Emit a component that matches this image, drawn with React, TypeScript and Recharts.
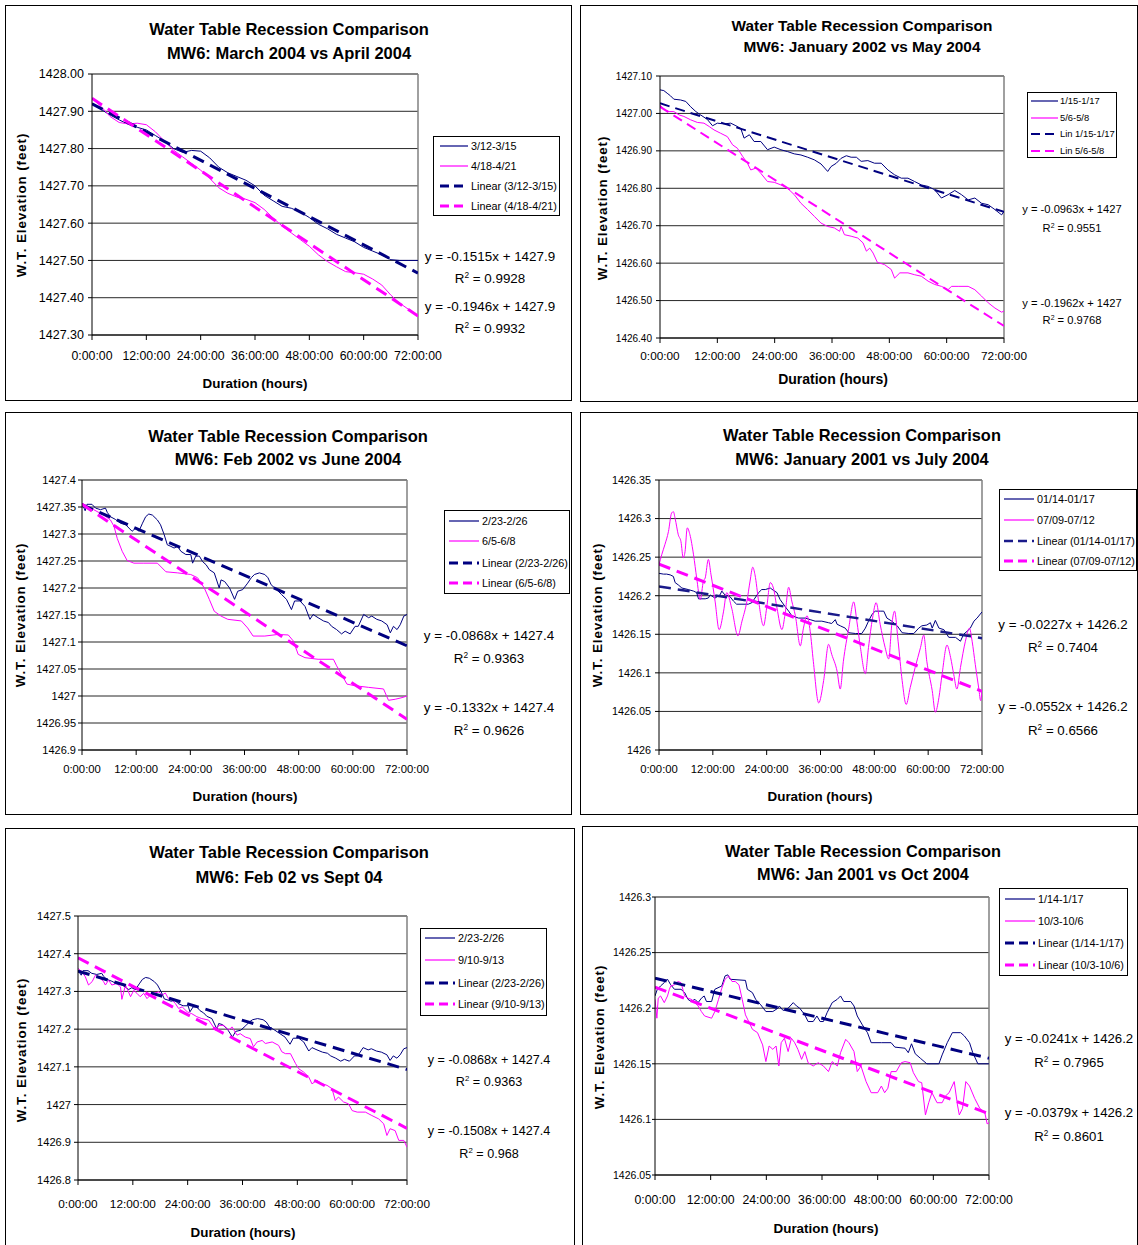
import React from 'react';
import { LineChart, Line, XAxis, YAxis, CartesianGrid, ReferenceLine } from 'recharts';

const FONT = '"Liberation Sans", Arial, Helvetica, sans-serif';
const NAVY = '#000080';
const MAGENTA = '#FF00FF';

// ---------- shared axis data ----------
const xTicks = [0, 12, 24, 36, 48, 60, 72];
const fmtHours = (h: number) => `${h}:00:00`;

// ---------- Panel 1: March 2004 vs April 2004 ----------
const p1Hours = [0, 2, 4, 6, 8, 10, 12, 14, 16, 18, 20, 22, 24, 26, 28, 30, 32, 34, 36, 38, 40, 42, 44, 46, 48, 50, 52, 54, 56, 58, 60, 62, 64, 66, 68, 70, 72];
const p1March = [1427.92, 1427.905, 1427.89, 1427.877, 1427.865, 1427.857, 1427.85, 1427.835, 1427.82, 1427.8, 1427.79, 1427.795, 1427.793, 1427.775, 1427.75, 1427.735, 1427.725, 1427.715, 1427.7, 1427.675, 1427.66, 1427.645, 1427.64, 1427.63, 1427.615, 1427.597, 1427.585, 1427.57, 1427.56, 1427.55, 1427.535, 1427.525, 1427.515, 1427.502, 1427.5, 1427.5, 1427.5];
const p1April = [1427.935, 1427.913, 1427.886, 1427.87, 1427.866, 1427.868, 1427.864, 1427.845, 1427.82, 1427.796, 1427.778, 1427.76, 1427.742, 1427.72, 1427.695, 1427.68, 1427.67, 1427.664, 1427.655, 1427.637, 1427.614, 1427.592, 1427.574, 1427.556, 1427.538, 1427.515, 1427.497, 1427.483, 1427.47, 1427.467, 1427.463, 1427.45, 1427.434, 1427.407, 1427.385, 1427.368, 1427.35];
const p1MarchTrend = [[0, 1427.92], [72, 1427.466]];
const p1AprilTrend = [[0, 1427.935], [72, 1427.351]];
const p1YTicks = [1427.3, 1427.4, 1427.5, 1427.6, 1427.7, 1427.8, 1427.9, 1428.0];

// ---------- Panel 2: January 2002 vs May 2004 ----------
const p2Jan = [[0, 1427.063], [0.8, 1427.061], [1.5, 1427.054], [2.2, 1427.047], [2.9, 1427.038], [4.3, 1427.036], [5.4, 1427.032], [6.4, 1427.018], [7.5, 1427.005], [8.5, 1426.996], [9.9, 1426.984], [11.0, 1426.967], [12.0, 1426.974], [13.4, 1426.972], [14.8, 1426.974], [15.9, 1426.967], [16.9, 1426.96], [17.6, 1426.934], [18.7, 1426.943], [19.7, 1426.925], [21.1, 1426.925], [22.5, 1426.903], [23.9, 1426.91], [25.3, 1426.903], [26.7, 1426.898], [28.1, 1426.892], [29.5, 1426.889], [30.9, 1426.883], [32.3, 1426.876], [33.7, 1426.865], [35.1, 1426.845], [35.8, 1426.858], [36.9, 1426.867], [37.9, 1426.88], [39.0, 1426.887], [40.0, 1426.883], [41.1, 1426.883], [42.1, 1426.872], [43.5, 1426.874], [44.9, 1426.867], [46.3, 1426.867], [47.7, 1426.849], [49.1, 1426.836], [50.5, 1426.827], [51.9, 1426.827], [53.3, 1426.818], [54.7, 1426.809], [56.1, 1426.805], [57.5, 1426.796], [58.9, 1426.774], [60.3, 1426.783], [61.7, 1426.794], [63.1, 1426.783], [64.5, 1426.769], [65.9, 1426.774], [67.3, 1426.76], [68.7, 1426.756], [70.1, 1426.743], [71.5, 1426.729], [72, 1426.738]];
const p2May = [[0, 1427.023], [0.8, 1427.011], [1.9, 1427.005], [2.9, 1427.005], [4.0, 1426.996], [5.0, 1426.992], [6.4, 1426.983], [7.8, 1426.976], [9.2, 1426.974], [10.3, 1426.965], [11.3, 1426.956], [12.7, 1426.947], [14.1, 1426.938], [15.2, 1426.916], [16.2, 1426.907], [17.3, 1426.885], [18.3, 1426.867], [19.0, 1426.849], [20.1, 1426.854], [21.1, 1426.84], [22.5, 1426.818], [23.9, 1426.816], [25.3, 1426.809], [26.7, 1426.8], [28.1, 1426.783], [29.5, 1426.76], [30.9, 1426.743], [32.3, 1426.725], [33.7, 1426.707], [35.1, 1426.698], [36.5, 1426.694], [37.6, 1426.685], [37.9, 1426.698], [38.6, 1426.676], [40.0, 1426.672], [41.4, 1426.667], [42.5, 1426.654], [43.2, 1426.632], [43.9, 1426.64], [44.6, 1426.627], [45.5, 1426.602], [47.0, 1426.596], [48.4, 1426.583], [49.1, 1426.56], [50.2, 1426.574], [51.9, 1426.574], [53.3, 1426.569], [54.7, 1426.565], [56.1, 1426.552], [57.5, 1426.543], [58.9, 1426.538], [60.3, 1426.529], [61.0, 1426.538], [62.4, 1426.538], [64.5, 1426.538], [65.9, 1426.529], [67.3, 1426.512], [68.7, 1426.494], [70.1, 1426.48], [71.5, 1426.469], [72, 1426.472]];
const p2JanTrend = [[0, 1427.027], [72, 1426.737]];
const p2MayTrend = [[0, 1427.018], [72, 1426.432]];
const p2YTicks = [1426.4, 1426.5, 1426.6, 1426.7, 1426.8, 1426.9, 1427.0, 1427.1];

// ---------- Panel 3 & 5 shared: 2/23-2/26 (Feb 2002) ----------
const feb02 = [[0, 1427.357], [0.7, 1427.343], [1.1, 1427.355], [2.2, 1427.355], [3.0, 1427.348], [4.1, 1427.345], [5.2, 1427.348], [5.6, 1427.34], [6.3, 1427.332], [7.4, 1427.327], [8.5, 1427.32], [9.7, 1427.317], [10.4, 1427.311], [11.1, 1427.305], [11.9, 1427.311], [12.6, 1427.305], [13.4, 1427.32], [14.1, 1427.332], [14.8, 1427.337], [15.6, 1427.335], [16.7, 1427.326], [17.4, 1427.317], [18.2, 1427.299], [18.9, 1427.28], [19.7, 1427.277], [20.4, 1427.274], [21.2, 1427.277], [21.9, 1427.268], [23.0, 1427.262], [24.1, 1427.262], [24.5, 1427.246], [25.2, 1427.259], [26.0, 1427.259], [26.7, 1427.249], [27.5, 1427.243], [28.2, 1427.234], [29.3, 1427.228], [30.4, 1427.2], [30.8, 1427.215], [31.6, 1427.212], [32.7, 1427.2], [33.8, 1427.179], [34.5, 1427.194], [35.6, 1427.197], [36.7, 1427.209], [37.5, 1427.219], [38.2, 1427.225], [39.3, 1427.228], [40.5, 1427.225], [41.2, 1427.219], [41.9, 1427.206], [43.1, 1427.197], [44.2, 1427.188], [45.3, 1427.179], [46.4, 1427.16], [47.1, 1427.176], [48.3, 1427.176], [49.4, 1427.166], [50.5, 1427.142], [51.2, 1427.151], [52.3, 1427.145], [53.5, 1427.139], [54.6, 1427.136], [55.3, 1427.129], [56.4, 1427.123], [57.5, 1427.115], [58.3, 1427.12], [59.4, 1427.115], [60.5, 1427.129], [61.2, 1427.129], [62.4, 1427.151], [63.5, 1427.145], [64.2, 1427.148], [65.3, 1427.142], [66.4, 1427.139], [67.6, 1427.132], [68.3, 1427.117], [69.0, 1427.129], [69.8, 1427.123], [70.5, 1427.132], [71.3, 1427.148], [72, 1427.151]];
const feb02Trend = [[0, 1427.354], [72, 1427.093]];

// ---------- Panel 3: Feb 2002 vs June 2004 ----------
const p3June = [[0, 1427.357], [2.6, 1427.345], [4.8, 1427.335], [6.3, 1427.326], [7.1, 1427.314], [7.8, 1427.292], [8.9, 1427.268], [10.0, 1427.251], [11.5, 1427.246], [13.7, 1427.246], [16.7, 1427.246], [18.6, 1427.23], [21.2, 1427.228], [24.1, 1427.225], [25.6, 1427.219], [27.1, 1427.2], [28.2, 1427.179], [29.3, 1427.157], [30.8, 1427.148], [32.3, 1427.142], [35.3, 1427.139], [36.7, 1427.126], [37.9, 1427.111], [40.5, 1427.111], [43.4, 1427.114], [45.7, 1427.113], [46.8, 1427.102], [47.9, 1427.077], [49.4, 1427.071], [52.3, 1427.068], [55.7, 1427.068], [56.4, 1427.056], [57.5, 1427.04], [58.7, 1427.022], [60.5, 1427.019], [63.5, 1427.016], [66.8, 1427.013], [67.9, 1426.992], [69.4, 1426.994], [70.9, 1426.997], [72, 1427.0]];
const p3JuneTrend = [[0, 1427.355], [72, 1426.957]];
const p3YTicks = [1426.9, 1426.95, 1427.0, 1427.05, 1427.1, 1427.15, 1427.2, 1427.25, 1427.3, 1427.35, 1427.4];

// ---------- Panel 4: January 2001 vs July 2004 ----------
const p4Jan = [[0, 1426.229], [1.0, 1426.228], [1.7, 1426.228], [2.5, 1426.227], [3.2, 1426.225], [3.6, 1426.217], [4.3, 1426.214], [5.1, 1426.21], [6.5, 1426.208], [7.7, 1426.206], [8.4, 1426.204], [8.8, 1426.196], [10.3, 1426.196], [11.0, 1426.197], [11.4, 1426.201], [12.5, 1426.197], [13.6, 1426.201], [14.0, 1426.206], [14.7, 1426.201], [15.8, 1426.199], [16.6, 1426.193], [17.3, 1426.189], [18.5, 1426.189], [19.9, 1426.189], [20.7, 1426.191], [21.4, 1426.197], [22.2, 1426.204], [22.9, 1426.208], [23.7, 1426.208], [24.8, 1426.21], [25.5, 1426.207], [26.3, 1426.204], [27.0, 1426.195], [28.1, 1426.186], [28.9, 1426.18], [29.6, 1426.174], [31.1, 1426.171], [32.6, 1426.171], [33.7, 1426.169], [34.8, 1426.167], [36.3, 1426.167], [37.8, 1426.165], [38.5, 1426.164], [39.3, 1426.169], [39.7, 1426.163], [40.4, 1426.161], [41.5, 1426.158], [42.3, 1426.152], [43.8, 1426.151], [45.2, 1426.151], [46.0, 1426.158], [46.7, 1426.167], [47.5, 1426.176], [48.2, 1426.18], [49.3, 1426.18], [50.1, 1426.18], [50.8, 1426.171], [51.9, 1426.167], [53.1, 1426.161], [54.2, 1426.152], [55.7, 1426.151], [56.8, 1426.151], [57.9, 1426.158], [58.6, 1426.161], [59.7, 1426.162], [60.5, 1426.165], [60.9, 1426.158], [61.6, 1426.168], [62.4, 1426.158], [63.5, 1426.156], [64.6, 1426.146], [66.1, 1426.146], [67.2, 1426.141], [67.9, 1426.15], [68.7, 1426.154], [69.4, 1426.158], [70.2, 1426.167], [70.9, 1426.171], [72, 1426.179]];
const p4Jul = [[0, 1426.24], [0.6, 1426.253], [1.3, 1426.266], [2.1, 1426.283], [2.8, 1426.307], [3.2, 1426.309], [3.6, 1426.3], [4.3, 1426.279], [4.9, 1426.27], [5.4, 1426.249], [5.8, 1426.257], [6.3, 1426.288], [6.9, 1426.279], [7.7, 1426.253], [8.4, 1426.223], [9.2, 1426.195], [9.9, 1426.219], [10.3, 1426.223], [11.0, 1426.247], [11.6, 1426.227], [12.5, 1426.193], [13.4, 1426.156], [14.4, 1426.18], [15.1, 1426.204], [16.2, 1426.184], [17.6, 1426.148], [18.5, 1426.167], [19.6, 1426.193], [20.3, 1426.219], [20.9, 1426.237], [21.4, 1426.227], [22.2, 1426.193], [23.3, 1426.161], [24.0, 1426.184], [24.8, 1426.217], [25.5, 1426.21], [26.3, 1426.184], [27.4, 1426.156], [28.1, 1426.176], [28.9, 1426.211], [29.6, 1426.193], [30.4, 1426.174], [31.5, 1426.135], [32.2, 1426.158], [33.0, 1426.174], [33.7, 1426.154], [34.4, 1426.115], [35.6, 1426.061], [36.7, 1426.09], [37.8, 1426.137], [38.5, 1426.124], [39.7, 1426.102], [40.4, 1426.079], [41.1, 1426.115], [42.3, 1426.158], [43.4, 1426.192], [44.1, 1426.167], [44.9, 1426.133], [46.0, 1426.099], [46.7, 1426.133], [47.6, 1426.171], [48.4, 1426.191], [49.3, 1426.163], [50.4, 1426.133], [51.2, 1426.118], [51.9, 1426.163], [52.5, 1426.18], [53.3, 1426.141], [54.2, 1426.09], [55.1, 1426.059], [56.0, 1426.081], [57.1, 1426.107], [58.3, 1426.133], [59.0, 1426.149], [59.7, 1426.115], [60.9, 1426.077], [61.6, 1426.049], [62.4, 1426.068], [63.1, 1426.098], [64.2, 1426.136], [65.0, 1426.12], [65.7, 1426.098], [66.4, 1426.079], [67.2, 1426.107], [68.3, 1426.141], [69.2, 1426.158], [69.8, 1426.141], [70.5, 1426.111], [71.3, 1426.079], [71.7, 1426.064], [72, 1426.077]];
const p4JanTrend = [[0, 1426.212], [72, 1426.145]];
const p4JulTrend = [[0, 1426.241], [72, 1426.076]];
const p4YTicks = [1426.0, 1426.05, 1426.1, 1426.15, 1426.2, 1426.25, 1426.3, 1426.35];

// ---------- Panel 5: Feb 02 vs Sept 04 ----------
const p5Sept = [[0, 1427.361], [0.9, 1427.352], [1.6, 1427.339], [2.3, 1427.317], [3.1, 1427.326], [3.8, 1427.343], [4.5, 1427.339], [5.6, 1427.326], [6.0, 1427.317], [6.7, 1427.33], [7.4, 1427.317], [8.5, 1427.321], [9.3, 1427.312], [9.6, 1427.279], [10.4, 1427.317], [11.5, 1427.286], [12.2, 1427.303], [12.9, 1427.295], [13.6, 1427.286], [14.4, 1427.295], [15.1, 1427.281], [15.8, 1427.29], [16.6, 1427.295], [17.7, 1427.299], [18.4, 1427.29], [19.1, 1427.296], [19.8, 1427.281], [20.6, 1427.277], [21.3, 1427.268], [22.0, 1427.255], [22.8, 1427.259], [23.9, 1427.246], [24.9, 1427.241], [26.0, 1427.233], [27.1, 1427.228], [28.6, 1427.224], [30.1, 1427.197], [30.8, 1427.21], [31.9, 1427.21], [33.0, 1427.197], [33.7, 1427.206], [34.8, 1427.184], [35.5, 1427.188], [36.6, 1427.179], [37.7, 1427.175], [38.4, 1427.153], [39.2, 1427.166], [40.3, 1427.17], [41.0, 1427.162], [42.5, 1427.166], [43.9, 1427.157], [44.6, 1427.14], [45.4, 1427.135], [46.5, 1427.135], [47.6, 1427.109], [48.3, 1427.095], [49.4, 1427.086], [50.5, 1427.073], [51.2, 1427.055], [52.3, 1427.064], [53.4, 1427.055], [54.5, 1427.051], [55.6, 1427.042], [56.3, 1427.011], [57.0, 1427.02], [58.1, 1427.007], [59.2, 1427.002], [60.0, 1426.984], [61.1, 1426.98], [62.9, 1426.98], [64.3, 1426.971], [65.8, 1426.962], [66.9, 1426.949], [67.6, 1426.918], [68.3, 1426.936], [69.4, 1426.931], [70.2, 1426.905], [71.3, 1426.905], [72, 1426.887]];
const p5SeptTrend = [[0, 1427.389], [72, 1426.937]];
const p5YTicks = [1426.8, 1426.9, 1427.0, 1427.1, 1427.2, 1427.3, 1427.4, 1427.5];

// ---------- Panel 6: Jan 2001 vs Oct 2004 ----------
const p6Jan = [[0, 1426.211], [0.5, 1426.217], [1.2, 1426.22], [2.0, 1426.223], [2.7, 1426.226], [3.4, 1426.221], [4.2, 1426.217], [5.6, 1426.217], [6.4, 1426.214], [7.1, 1426.208], [7.8, 1426.206], [8.6, 1426.208], [9.3, 1426.205], [10.0, 1426.209], [10.6, 1426.211], [11.1, 1426.206], [12.2, 1426.206], [12.9, 1426.217], [14.4, 1426.22], [15.1, 1426.229], [15.7, 1426.23], [16.2, 1426.226], [19.5, 1426.225], [19.9, 1426.217], [21.0, 1426.214], [21.7, 1426.208], [22.8, 1426.203], [23.9, 1426.197], [25.4, 1426.197], [26.5, 1426.2], [26.8, 1426.202], [27.6, 1426.198], [28.7, 1426.2], [29.8, 1426.205], [30.5, 1426.202], [31.2, 1426.2], [32.3, 1426.194], [33.0, 1426.188], [34.1, 1426.188], [34.9, 1426.193], [35.6, 1426.188], [36.3, 1426.188], [37.1, 1426.196], [38.2, 1426.205], [39.3, 1426.208], [40.0, 1426.211], [40.7, 1426.206], [42.2, 1426.206], [42.9, 1426.202], [43.6, 1426.193], [44.7, 1426.185], [45.8, 1426.178], [46.6, 1426.169], [48.8, 1426.169], [50.9, 1426.169], [51.7, 1426.165], [53.9, 1426.164], [54.6, 1426.16], [55.3, 1426.168], [56.1, 1426.159], [57.2, 1426.155], [58.6, 1426.15], [61.2, 1426.15], [61.9, 1426.158], [63.0, 1426.169], [64.1, 1426.178], [65.9, 1426.178], [66.7, 1426.175], [67.8, 1426.169], [68.5, 1426.16], [69.6, 1426.15], [72, 1426.15]];
const p6Oct = [[0, 1426.208], [0.4, 1426.191], [0.7, 1426.209], [1.2, 1426.211], [2.0, 1426.205], [2.7, 1426.211], [3.1, 1426.217], [3.4, 1426.22], [4.2, 1426.221], [4.9, 1426.224], [5.6, 1426.223], [6.4, 1426.211], [7.1, 1426.209], [7.8, 1426.208], [8.6, 1426.205], [9.3, 1426.202], [10.0, 1426.197], [10.7, 1426.193], [12.2, 1426.191], [12.9, 1426.197], [13.7, 1426.208], [14.4, 1426.218], [15.1, 1426.226], [15.9, 1426.229], [16.6, 1426.224], [17.3, 1426.224], [18.1, 1426.221], [18.8, 1426.208], [19.5, 1426.194], [20.2, 1426.188], [21.0, 1426.181], [22.1, 1426.178], [23.2, 1426.167], [23.9, 1426.152], [24.6, 1426.166], [25.4, 1426.163], [26.1, 1426.166], [26.7, 1426.148], [27.2, 1426.169], [27.9, 1426.173], [28.7, 1426.161], [29.4, 1426.173], [30.1, 1426.169], [30.8, 1426.163], [31.6, 1426.154], [32.3, 1426.161], [33.0, 1426.151], [34.1, 1426.148], [35.2, 1426.151], [36.3, 1426.148], [37.4, 1426.143], [38.2, 1426.152], [39.3, 1426.148], [40.0, 1426.16], [41.1, 1426.172], [41.8, 1426.169], [42.9, 1426.161], [43.6, 1426.143], [44.4, 1426.148], [45.5, 1426.134], [46.6, 1426.124], [48.0, 1426.124], [48.8, 1426.13], [49.5, 1426.124], [50.2, 1426.128], [50.9, 1426.143], [52.0, 1426.143], [53.1, 1426.151], [53.9, 1426.152], [55.0, 1426.151], [55.7, 1426.142], [56.8, 1426.134], [57.5, 1426.133], [58.3, 1426.104], [59.0, 1426.115], [59.7, 1426.124], [60.8, 1426.115], [61.9, 1426.115], [62.6, 1426.121], [63.4, 1426.124], [64.5, 1426.134], [65.2, 1426.113], [65.6, 1426.104], [66.3, 1426.11], [67.0, 1426.134], [67.8, 1426.13], [68.9, 1426.119], [70.0, 1426.11], [71.1, 1426.106], [71.6, 1426.096], [72, 1426.097]];
const p6JanTrend = [[0, 1426.227], [72, 1426.155]];
const p6OctTrend = [[0, 1426.219], [72, 1426.105]];
const p6YTicks = [1426.05, 1426.1, 1426.15, 1426.2, 1426.25, 1426.3];

// ---------- helpers ----------
const zip = (hours: number[], values: number[]) => hours.map((t, i) => ({ t, v: values[i] }));
const pts = (pairs: number[][]) => pairs.map(([t, v]) => ({ t, v }));
const fixed2 = (v: number) => v.toFixed(2);
const trim = (v: number) => String(Number(v.toFixed(2)));

const solid = (data: any, color: string) => ({ data, color, width: 1 });
const dashed = (data: any, color: string, width = 3, dash = '12 7') => ({ data, color, width, dash });

const TITLE1 = 'Water Table Recession Comparison';

const panels = [
  {
    frame: { x: 5, y: 5, w: 567, h: 396 },
    plot: { l: 92, t: 74, r: 418, b: 335 },
    yDomain: [1427.3, 1428.0], yTicks: p1YTicks, yFmt: fixed2, yFont: 12.5, yGap: 8,
    xFont: 12.3, xLabelOff: 21,
    title: { cx: 289, ys: [29, 53], size: 16.5, lines: [TITLE1, 'MW6: March 2004 vs April 2004'] },
    xTitle: { cx: 255, cy: 383, size: 13.4 },
    yTitle: { cx: 22, cy: 205, size: 13.4 },
    series: [
      solid(zip(p1Hours, p1March), NAVY),
      solid(zip(p1Hours, p1April), MAGENTA),
      dashed(pts(p1MarchTrend), NAVY),
      dashed(pts(p1AprilTrend), MAGENTA),
    ],
    legend: { l: 433, t: 136, r: 560, b: 216, rows: [146, 166, 186, 206], sx1: 440, sx2: 468, tx: 471, size: 10.8,
      labels: ['3/12-3/15', '4/18-4/21', 'Linear (3/12-3/15)', 'Linear (4/18-4/21)'] },
    eq: { cx: 490, ys: [256, 278, 306, 328], size: 13.4, texts: ['y = -0.1515x + 1427.9', '0.9928', 'y = -0.1946x + 1427.9', '0.9932'] },
  },
  {
    frame: { x: 580, y: 5, w: 558, h: 397 },
    plot: { l: 660, t: 76, r: 1004, b: 338 },
    yDomain: [1426.4, 1427.1], yTicks: p2YTicks, yFmt: fixed2, yFont: 10, yGap: 8,
    xFont: 11.8, xLabelOff: 18,
    title: { cx: 862, ys: [25, 46], size: 15.4, lines: [TITLE1, 'MW6: January 2002 vs May 2004'] },
    xTitle: { cx: 833, cy: 379, size: 14 },
    yTitle: { cx: 603, cy: 208, size: 13.4 },
    series: [
      solid(pts(p2Jan), NAVY),
      solid(pts(p2May), MAGENTA),
      dashed(pts(p2JanTrend), NAVY, 2, '10 6'),
      dashed(pts(p2MayTrend), MAGENTA, 2, '10 6'),
    ],
    legend: { l: 1027, t: 92, r: 1117, b: 158, rows: [101, 118, 134, 151], sx1: 1031, sx2: 1058, tx: 1060, size: 9.4,
      labels: ['1/15-1/17', '5/6-5/8', 'Lin 1/15-1/17', 'Lin 5/6-5/8'] },
    eq: { cx: 1072, ys: [209, 228, 303, 320], size: 11.2, texts: ['y = -0.0963x + 1427', '0.9551', 'y = -0.1962x + 1427', '0.9768'] },
  },
  {
    frame: { x: 5, y: 412, w: 567, h: 403 },
    plot: { l: 82, t: 480, r: 407, b: 750 },
    yDomain: [1426.9, 1427.4], yTicks: p3YTicks, yFmt: trim, yFont: 11, yGap: 6,
    xFont: 11.3, xLabelOff: 19,
    title: { cx: 288, ys: [436, 459], size: 16.5, lines: [TITLE1, 'MW6: Feb 2002 vs June 2004'] },
    xTitle: { cx: 245, cy: 796, size: 13.4 },
    yTitle: { cx: 21, cy: 615, size: 13.4 },
    series: [
      solid(pts(feb02), NAVY),
      solid(pts(p3June), MAGENTA),
      dashed(pts(feb02Trend), NAVY),
      dashed(pts(p3JuneTrend), MAGENTA),
    ],
    legend: { l: 444, t: 510, r: 570, b: 594, rows: [521, 541, 563, 583], sx1: 449, sx2: 479, tx: 482, size: 10.8,
      labels: ['2/23-2/26', '6/5-6/8', 'Linear (2/23-2/26)', 'Linear (6/5-6/8)'] },
    eq: { cx: 489, ys: [635, 658, 707, 730], size: 13.4, texts: ['y = -0.0868x + 1427.4', '0.9363', 'y = -0.1332x + 1427.4', '0.9626'] },
  },
  {
    frame: { x: 580, y: 412, w: 558, h: 403 },
    plot: { l: 659, t: 480, r: 982, b: 750 },
    yDomain: [1426.0, 1426.35], yTicks: p4YTicks, yFmt: trim, yFont: 10.8, yGap: 8,
    xFont: 11.3, xLabelOff: 19,
    title: { cx: 862, ys: [435, 459], size: 16.4, lines: [TITLE1, 'MW6: January 2001 vs July 2004'] },
    xTitle: { cx: 820, cy: 796, size: 13.4 },
    yTitle: { cx: 598, cy: 615, size: 13.4 },
    series: [
      solid(pts(p4Jan), NAVY),
      { ...solid(pts(p4Jul), MAGENTA), smooth: true },
      dashed(pts(p4JanTrend), '#1a1a8a', 2.5, '12 7'),
      dashed(pts(p4JulTrend), MAGENTA),
    ],
    legend: { l: 999, t: 489, r: 1137, b: 571, rows: [499, 520, 541, 561], sx1: 1004, sx2: 1034, tx: 1037, size: 10.8,
      labels: ['01/14-01/17', '07/09-07/12', 'Linear (01/14-01/17)', 'Linear (07/09-07/12)'] },
    eq: { cx: 1063, ys: [624, 647, 706, 730], size: 13.3, texts: ['y = -0.0227x + 1426.2', '0.7404', 'y = -0.0552x + 1426.2', '0.6566'] },
  },
  {
    frame: { x: 5, y: 828, w: 570, h: 422 },
    plot: { l: 78, t: 916, r: 407, b: 1180 },
    yDomain: [1426.8, 1427.5], yTicks: p5YTicks, yFmt: trim, yFont: 11.1, yGap: 7,
    xFont: 11.8, xLabelOff: 24,
    title: { cx: 289, ys: [852, 877], size: 16.5, lines: [TITLE1, 'MW6: Feb 02 vs Sept 04'] },
    xTitle: { cx: 243, cy: 1232, size: 13.4 },
    yTitle: { cx: 22, cy: 1050, size: 13.4 },
    series: [
      solid(pts(feb02), NAVY),
      solid(pts(p5Sept), MAGENTA),
      dashed(pts(feb02Trend), NAVY),
      dashed(pts(p5SeptTrend), MAGENTA),
    ],
    legend: { l: 420, t: 928, r: 547, b: 1016, rows: [938, 960, 983, 1004], sx1: 425, sx2: 455, tx: 458, size: 10.9,
      labels: ['2/23-2/26', '9/10-9/13', 'Linear (2/23-2/26)', 'Linear (9/10-9/13)'] },
    eq: { cx: 489, ys: [1060, 1082, 1131, 1154], size: 12.6, texts: ['y = -0.0868x + 1427.4', '0.9363', 'y = -0.1508x + 1427.4', '0.968'] },
  },
  {
    frame: { x: 582, y: 826, w: 556, h: 424 },
    plot: { l: 655, t: 897, r: 989, b: 1175 },
    yDomain: [1426.05, 1426.3], yTicks: p6YTicks, yFmt: trim, yFont: 10.5, yGap: 4,
    xFont: 12.3, xLabelOff: 25,
    title: { cx: 863, ys: [851, 874], size: 16.3, lines: [TITLE1, 'MW6: Jan 2001 vs Oct 2004'] },
    xTitle: { cx: 826, cy: 1228, size: 13.4 },
    yTitle: { cx: 600, cy: 1037, size: 13.4 },
    series: [
      solid(pts(p6Jan), NAVY),
      solid(pts(p6Oct), MAGENTA),
      dashed(pts(p6JanTrend), NAVY),
      dashed(pts(p6OctTrend), MAGENTA),
    ],
    legend: { l: 999, t: 888, r: 1128, b: 976, rows: [899, 921, 943, 965], sx1: 1005, sx2: 1035, tx: 1038, size: 10.8,
      labels: ['1/14-1/17', '10/3-10/6', 'Linear (1/14-1/17)', 'Linear (10/3-10/6)'] },
    eq: { cx: 1069, ys: [1038, 1062, 1112, 1136], size: 13.2, texts: ['y = -0.0241x + 1426.2', '0.7965', 'y = -0.0379x + 1426.2', '0.8601'] },
  },
];

function Txt({ x, y, size, bold, children, w = 400, align = 'center', spacing }: any) {
  const lh = Math.round(size * 1.25);
  const left = align === 'center' ? x - w / 2 : x;
  return (
    <div style={{
      position: 'absolute', left, top: y - lh / 2, width: w, height: lh, lineHeight: `${lh}px`,
      fontSize: size, fontWeight: bold ? 700 : 400, textAlign: align, whiteSpace: 'nowrap',
      fontFamily: FONT, color: '#000', letterSpacing: spacing,
    }}>{children}</div>
  );
}

function R2({ value }: any) {
  return (
    <span>R<span style={{ fontSize: '0.62em', position: 'relative', top: '-0.6em' }}>2</span> = {value}</span>
  );
}

function Panel({ cfg }: any) {
  const { frame, plot } = cfg;
  const yAxisW = plot.l - frame.x;
  const xAxisH = frame.y + frame.h - plot.b;
  const margin = { top: plot.t - frame.y, right: frame.x + frame.w - plot.r, left: 0, bottom: 0 };
  const tickStyle = (size: number) => ({ fontSize: size, fill: '#000', fontFamily: FONT });
  const yTickSize = Math.min(4, cfg.yGap - 1);
  const xTickMargin = cfg.xLabelOff - 5 - cfg.xFont * 0.36;
  const lg = cfg.legend;
  const legendItems = cfg.series.map((s: any, i: number) => ({ ...s, label: lg.labels[i] }));
  return (
    <>
      <div style={{ position: 'absolute', left: frame.x, top: frame.y, width: frame.w, height: frame.h, border: '1.5px solid #000', boxSizing: 'border-box' }} />
      <div style={{ position: 'absolute', left: frame.x, top: frame.y }}>
        <LineChart width={frame.w} height={frame.h} margin={margin}>
          <CartesianGrid horizontal vertical={false} stroke="#000" strokeOpacity={0.85} />
          <XAxis type="number" dataKey="t" domain={[0, 72]} ticks={xTicks} tickFormatter={fmtHours} interval={0}
            allowDataOverflow height={xAxisH} tick={tickStyle(cfg.xFont)} tickSize={5} tickMargin={xTickMargin}
            axisLine={{ stroke: '#000' }} tickLine={{ stroke: '#000' }} />
          <YAxis type="number" dataKey="v" domain={cfg.yDomain} ticks={cfg.yTicks} tickFormatter={cfg.yFmt} interval={0}
            allowDataOverflow width={yAxisW} tick={tickStyle(cfg.yFont)} tickSize={yTickSize} tickMargin={cfg.yGap - yTickSize}
            axisLine={{ stroke: '#000' }} tickLine={{ stroke: '#000' }} />
          <ReferenceLine x={72} stroke="#808080" strokeWidth={1.5} />
          <ReferenceLine y={cfg.yDomain[1]} stroke="#808080" strokeWidth={1.5} />
          {cfg.series.map((s: any, i: number) => (
            <Line key={i} data={s.data} dataKey="v" type={s.smooth ? 'monotone' : 'linear'} stroke={s.color}
              strokeWidth={s.width} strokeDasharray={s.dash} dot={false} activeDot={false}
              isAnimationActive={false} name={lg.labels[i]} />
          ))}
        </LineChart>
      </div>
      {cfg.title.lines.map((t: string, i: number) => (
        <Txt key={i} x={cfg.title.cx} y={cfg.title.ys[i]} size={cfg.title.size} bold w={500}>{t}</Txt>
      ))}
      <Txt x={cfg.xTitle.cx} y={cfg.xTitle.cy} size={cfg.xTitle.size} bold w={300}>Duration (hours)</Txt>
      <div style={{
        position: 'absolute', left: cfg.yTitle.cx - 150, top: cfg.yTitle.cy - 10, width: 300, height: 20,
        lineHeight: '20px', textAlign: 'center', fontFamily: FONT, fontWeight: 700, fontSize: cfg.yTitle.size,
        letterSpacing: 0.9, transform: 'rotate(-90deg)', whiteSpace: 'nowrap', color: '#000',
      }}>W.T. Elevation (feet)</div>
      <div style={{ position: 'absolute', left: lg.l, top: lg.t, width: lg.r - lg.l, height: lg.b - lg.t, border: '1px solid #000', boxSizing: 'border-box', background: '#fff' }} />
      {legendItems.map((it: any, i: number) => (
        <React.Fragment key={i}>
          <svg style={{ position: 'absolute', left: lg.sx1, top: lg.rows[i] - 4 }} width={lg.sx2 - lg.sx1} height={8}>
            <line x1={0} y1={4} x2={lg.sx2 - lg.sx1} y2={4} stroke={it.color} strokeWidth={it.width === 1 ? 1.2 : it.width} strokeDasharray={it.dash ? '9 5' : undefined} />
          </svg>
          <Txt x={lg.tx} y={lg.rows[i]} size={lg.size} align="left" w={200}>{it.label}</Txt>
        </React.Fragment>
      ))}
      <Txt x={cfg.eq.cx} y={cfg.eq.ys[0]} size={cfg.eq.size} w={250}>{cfg.eq.texts[0]}</Txt>
      <Txt x={cfg.eq.cx} y={cfg.eq.ys[1]} size={cfg.eq.size} w={250}><R2 value={cfg.eq.texts[1]} /></Txt>
      <Txt x={cfg.eq.cx} y={cfg.eq.ys[2]} size={cfg.eq.size} w={250}>{cfg.eq.texts[2]}</Txt>
      <Txt x={cfg.eq.cx} y={cfg.eq.ys[3]} size={cfg.eq.size} w={250}><R2 value={cfg.eq.texts[3]} /></Txt>
    </>
  );
}

export default function App() {
  return (
    <div style={{ position: 'absolute', left: 0, top: 0, width: 1138, height: 1245, overflow: 'hidden', background: '#fff', fontFamily: FONT }}>
      {panels.map((p, i) => <Panel key={i} cfg={p} />)}
    </div>
  );
}
